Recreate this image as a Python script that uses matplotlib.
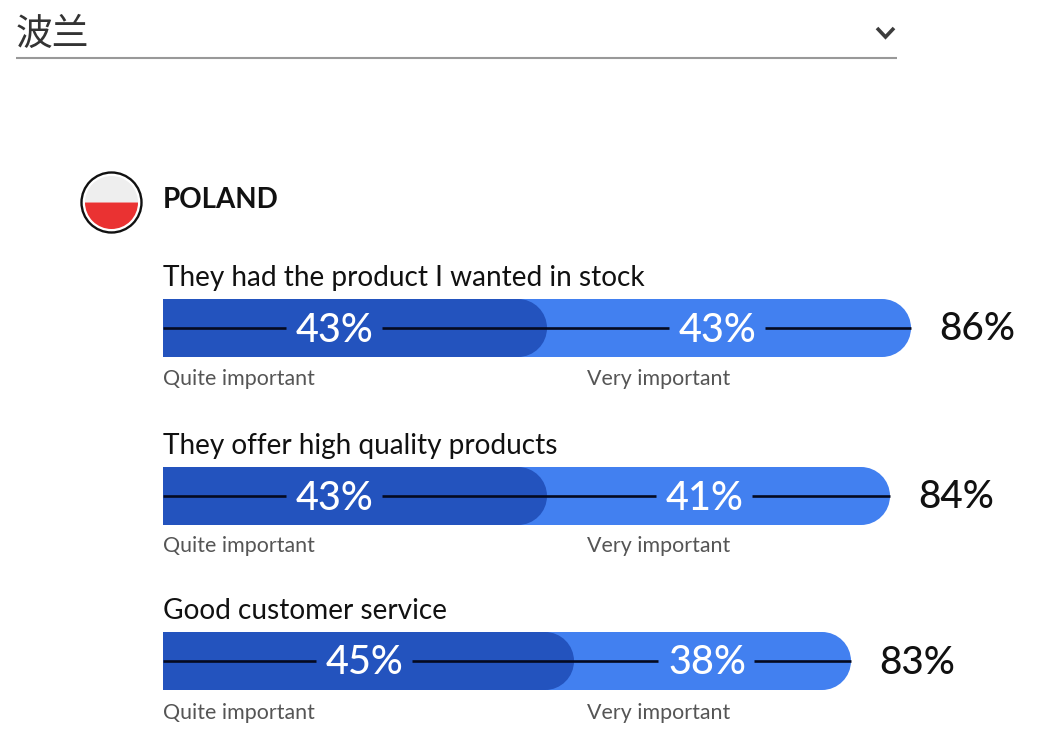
import matplotlib
matplotlib.use('Agg')
import matplotlib.pyplot as plt
from matplotlib.patches import Circle, Wedge, PathPatch
from matplotlib.path import Path

# text and values as printed on the chart
country_cn = '波兰'
country_en = 'POLAND'
questions = ['They had the product I wanted in stock',
             'They offer high quality products',
             'Good customer service']
quite_pct = [43, 43, 45]
very_pct = [43, 41, 38]
total_pct = [86, 84, 83]

# the bars are not drawn to one scale in the picture, so lengths are read off it (px)
quite_len = [384, 384, 411]
very_len = [364, 343, 277]

# rows, px from the top of the picture
question_y = [278, 446, 611]
bar_y = [328, 496, 661]
note_y = [379, 546, 713]
quite_label_x = [334, 334, 364]
very_label_x = [717, 704, 706]

BAR_LEFT = 163
BAR_H = 58
DARK = '#2353BE'
LIGHT = '#4280F0'
FONT = 'Lato'


def round_bar(ax, left, width, y, color):
    # square on the left, round on the right
    r = BAR_H / 2
    k = 0.5523 * r
    x1 = left + width
    verts = [(left, y - r), (x1 - r, y - r),
             (x1 - r + k, y - r), (x1, y - k), (x1, y),
             (x1, y + k), (x1 - r + k, y + r), (x1 - r, y + r),
             (left, y + r), (left, y - r)]
    codes = [Path.MOVETO, Path.LINETO,
             Path.CURVE4, Path.CURVE4, Path.CURVE4,
             Path.CURVE4, Path.CURVE4, Path.CURVE4,
             Path.LINETO, Path.CLOSEPOLY]
    ax.add_patch(PathPatch(Path(verts, codes), fc=color, ec='none', zorder=2))


fig = plt.figure(figsize=(10.4, 7.5), dpi=100)
ax = fig.add_axes([0, 0, 1, 1])
ax.set_xlim(0, 1040)
ax.set_ylim(750, 0)
ax.axis('off')

# dropdown header
ax.text(16, 34, country_cn, family=['Noto Sans CJK SC', 'DejaVu Sans'], fontsize=26.5,
        color='#333333', va='center', ha='left')
ax.plot([16, 897], [57.5, 57.5], color='#999999', lw=1.5, solid_capstyle='butt')
ax.plot([877, 885.5, 894], [28, 37, 28], color='#3c3c3c', lw=2.6,
        solid_capstyle='butt', solid_joinstyle='miter')

# flag
ax.add_patch(Circle((111.5, 202.5), 30, fc='white', ec='#111111', lw=1.7))
ax.add_patch(Wedge((111.5, 202.5), 26.5, 180, 360, fc='#EEEEEE', ec='none'))
ax.add_patch(Wedge((111.5, 202.5), 26.5, 0, 180, fc='#EA3232', ec='none'))
ax.text(163, 200, country_en, family=FONT, fontsize=20, fontweight='bold',
        color='#111111', va='center', ha='left')

for i, q in enumerate(questions):
    y = bar_y[i]
    quite_end = BAR_LEFT + quite_len[i]
    end = quite_end + very_len[i]
    ax.text(BAR_LEFT, question_y[i], q, family=FONT, fontsize=20.2, color='#111111',
            va='center', ha='left')
    round_bar(ax, BAR_LEFT, end - BAR_LEFT, y, LIGHT)
    round_bar(ax, BAR_LEFT, quite_len[i], y, DARK)

    # black rule, broken around the two labels
    gap = 48
    xs = [(BAR_LEFT, quite_label_x[i] - gap),
          (quite_label_x[i] + gap, very_label_x[i] - gap),
          (very_label_x[i] + gap, end)]
    for a, b in xs:
        ax.plot([a, b], [y, y], color='#050a20', lw=1.9, solid_capstyle='butt', zorder=3)

    ax.text(quite_label_x[i] + 1, y + 2, f'{quite_pct[i]}%', family=FONT, fontsize=28.5, color='white',
            fontweight='medium', va='center', ha='center', zorder=4)
    ax.text(very_label_x[i] + 1, y + 2, f'{very_pct[i]}%', family=FONT, fontsize=28.5, color='white',
            fontweight='medium', va='center', ha='center', zorder=4)
    ax.text(end + 28, y + 2, f'{total_pct[i]}%', family=FONT, fontsize=27.8, color='#111111',
            fontweight='medium', va='center', ha='left')

    ax.text(BAR_LEFT, note_y[i], 'Quite important', family=FONT, fontsize=15.4, color='#555555',
            va='center', ha='left')
    ax.text(587, note_y[i], 'Very important', family=FONT, fontsize=15.4, color='#555555',
            va='center', ha='left')

fig.savefig('out.png', dpi=100)
